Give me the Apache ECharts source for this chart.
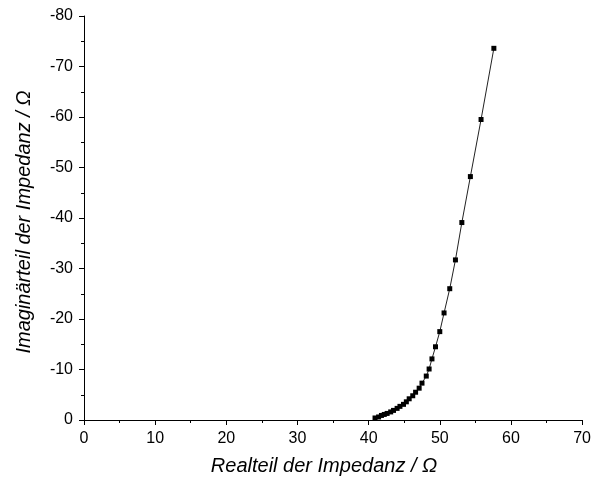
<!DOCTYPE html>
<html><head><meta charset="utf-8">
<script src="https://cdn.jsdelivr.net/npm/echarts@6/dist/echarts.min.js"></script>
<style>html,body{margin:0;padding:0;background:#fff}#c{width:594px;height:482px}</style>
</head><body><div id="c"></div>
<script>
var realPart = [40.9,41.4,41.8,42.2,42.6,43.1,43.5,44.0,44.4,44.9,45.3,45.7,46.2,46.6,47.1,47.5,48.1,48.5,48.9,49.4,50.0,50.6,51.4,52.2,53.1,54.3,55.8,57.6];
var imagPart = [-0.4,-0.6,-0.9,-1.1,-1.3,-1.6,-1.9,-2.3,-2.7,-3.1,-3.6,-4.2,-4.8,-5.5,-6.3,-7.3,-8.7,-10.1,-12.1,-14.5,-17.5,-21.2,-26.0,-31.7,-39.1,-48.2,-59.5,-73.6];
var xTicks = [0,10,20,30,40,50,60,70];
var yTicks = [0,-10,-20,-30,-40,-50,-60,-70,-80];

var pts = realPart.map(function(x,i){return [x, imagPart[i]];});
var font = 'Liberation Sans, Arial, sans-serif';
var chart = echarts.init(document.getElementById('c'), null, {renderer:'canvas'});
chart.setOption({
  animation:false,
  backgroundColor:'#fff',
  grid:{left:84,right:10,top:16,bottom:62,containLabel:false},
  xAxis:{
    type:'value', min:xTicks[0], max:xTicks[xTicks.length-1], interval:10,
    position:'bottom',
    name:'Realteil der Impedanz / Ω', nameLocation:'middle', nameGap:36,
    nameTextStyle:{fontFamily:font,fontSize:20,fontStyle:'italic',color:'#000',padding:[0,18,0,0]},
    axisLine:{onZero:false,lineStyle:{color:'#000',width:1}},
    axisTick:{show:true,inside:false,length:5,lineStyle:{color:'#000'}},
    minorTick:{show:true,splitNumber:2,length:3,lineStyle:{color:'#000'}},
    axisLabel:{fontFamily:font,fontSize:16,color:'#000',margin:11},
    splitLine:{show:false}
  },
  yAxis:{
    type:'value', min:yTicks[yTicks.length-1], max:yTicks[0], interval:10, inverse:true,
    name:'Imaginärteil der Impedanz / Ω', nameLocation:'middle', nameGap:50, nameRotate:90,
    nameTextStyle:{fontFamily:font,fontSize:20,fontStyle:'italic',color:'#000',padding:[0,8,0,0]},
    axisLine:{onZero:false,lineStyle:{color:'#000',width:1}},
    axisTick:{show:true,inside:false,length:5,lineStyle:{color:'#000'}},
    minorTick:{show:true,splitNumber:2,length:3,lineStyle:{color:'#000'}},
    axisLabel:{fontFamily:font,fontSize:16,color:'#000',margin:11},
    splitLine:{show:false}
  },
  series:[{
    type:'line', data:pts, symbol:'rect', symbolSize:5, showSymbol:true,
    lineStyle:{color:'#222',width:1}, itemStyle:{color:'#000'}
  }]
});
</script></body></html>
